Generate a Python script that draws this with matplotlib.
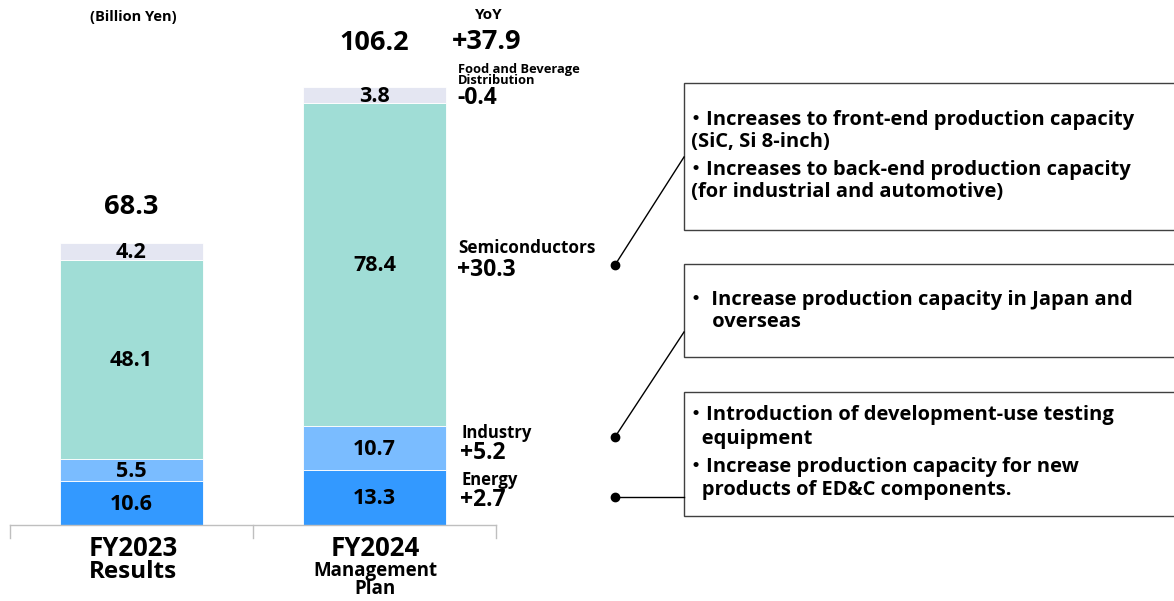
import numpy as np
import matplotlib.pyplot as plt
from matplotlib.patches import Rectangle
from matplotlib.lines import Line2D

plt.rcParams['font.family'] = ['Open Sans', 'Noto Sans CJK JP', 'DejaVu Sans']

W, H = 1174, 601

categories = ['FY2023', 'FY2024']
subtitles = ['Results', 'Management\nPlan']
segments = ['Energy', 'Industry', 'Semiconductors', 'Food and Beverage\nDistribution']
values = {
    'Energy': [10.6, 13.3],
    'Industry': [5.5, 10.7],
    'Semiconductors': [48.1, 78.4],
    'Food and Beverage\nDistribution': [4.2, 3.8],
}
totals = [68.3, 106.2]
yoy = ['+2.7', '+5.2', '+30.3', '-0.4']
yoy_total = '+37.9'
colors = ['#3399ff', '#7abcff', '#a0ddd6', '#e4e6f2']

box_texts = [
    ['・Increases to front-end production capacity', ' (SiC, Si 8-inch)',
     '・Increases to back-end production capacity', ' (for industrial and automotive)'],
    ['・ Increase production capacity in Japan and', '     overseas'],
    ['・Introduction of development-use testing', '   equipment',
     '・Increase production capacity for new', '   products of ED&C components.'],
]


def px(x, y):
    return x / W, 1 - y / H


fig = plt.figure(figsize=(W / 100, H / 100), dpi=100)
# axes: x pixels 10..496, y pixels 525 (bottom) .. 0 (top)
ax = fig.add_axes([10 / W, (H - 525) / H, 486 / W, 525 / H])
scale = 4.124  # pixels per billion yen
ax.set_xlim(-0.5, 1.5)
ax.set_ylim(0, 525 / scale)
ax.axis('off')

x = np.arange(len(categories))
bottom = np.zeros(len(categories))
for seg, col in zip(segments, colors):
    v = np.array(values[seg])
    ax.bar(x, v, 0.587, bottom=bottom, color=col, edgecolor='white', linewidth=0.6)
    for xi, b, vi in zip(x, bottom, v):
        ax.text(xi, b + vi / 2 - 0.3, f'{vi:.1f}', ha='center', va='center',
                fontsize=15.5, fontweight='bold')
    bottom += v

for xi, t, off in zip(x, totals, [26.5, 32]):
    ax.annotate(f'{t:.1f}', (xi, t), xytext=(0, off), textcoords='offset points',
                ha='center', va='center', fontsize=19.5, fontweight='bold')

# baseline and category ticks
fig.add_artist(Line2D([10 / W, 496 / W], [1 - 525 / H] * 2, color='#bfbfbf', lw=1))
for tx in [10, 253, 496]:
    fig.add_artist(Line2D([tx / W] * 2, [1 - 525 / H, 1 - 538 / H], color='#bfbfbf', lw=1))

fig.text(*px(133, 548), categories[0], ha='center', va='center', fontsize=18.5, fontweight='bold')
fig.text(*px(133, 572), subtitles[0], ha='center', va='center', fontsize=17.5, fontweight='bold')
fig.text(*px(375, 548), categories[1], ha='center', va='center', fontsize=18.5, fontweight='bold')
fig.text(*px(375, 580), subtitles[1], ha='center', va='center', fontsize=13.5, fontweight='bold',
         linespacing=0.9)

fig.text(*px(133, 17), '(Billion Yen)', ha='center', va='center', fontsize=10.5, fontweight='bold')
fig.text(*px(489, 15), 'YoY', ha='center', va='center', fontsize=11, fontweight='bold')
fig.text(*px(487, 42), yoy_total, ha='center', va='center', fontsize=19.5, fontweight='bold')

# right side segment labels
seg_pos = [(461, 480, 500), (461, 433, 453), (458, 248, 270), (458, 75, 98)]
seg_size = [12, 12, 12.3, 9.3]
for seg, d, (lx, ly, dy), fs in zip(segments, yoy, seg_pos, seg_size):
    fig.text(*px(lx, ly), seg, ha='left', va='center', fontsize=fs, fontweight='bold',
             linespacing=0.72)
    fig.text(*px(lx - 1, dy), d, ha='left', va='center', fontsize=16.5, fontweight='bold')

# comment boxes
boxes = [(83, 230), (264, 357), (392, 516)]
line_y = [[120, 142, 170, 192], [300, 322], [415, 439, 467, 490]]
for (top, bot), lines, ys in zip(boxes, box_texts, line_y):
    fig.add_artist(Rectangle(px(684, bot), 520 / W, (bot - top) / H, transform=fig.transFigure,
                             facecolor='white', edgecolor='#404040', lw=1))
    for txt, ty in zip(lines, ys):
        fig.text(*px(686, ty), txt, ha='left', va='center', fontsize=14.5, fontweight='bold')

# connectors
connectors = [((615, 265), (684, 157)), ((615, 437), (684, 332)), ((615, 497), (684, 497))]
for (x0, y0), (x1, y1) in connectors:
    fig.add_artist(Line2D([x0 / W, x1 / W], [1 - y0 / H, 1 - y1 / H], color='black', lw=1))
    fig.add_artist(Line2D([x0 / W], [1 - y0 / H], marker='o', color='black', markersize=6))

fig.savefig('out.png', dpi=100)
